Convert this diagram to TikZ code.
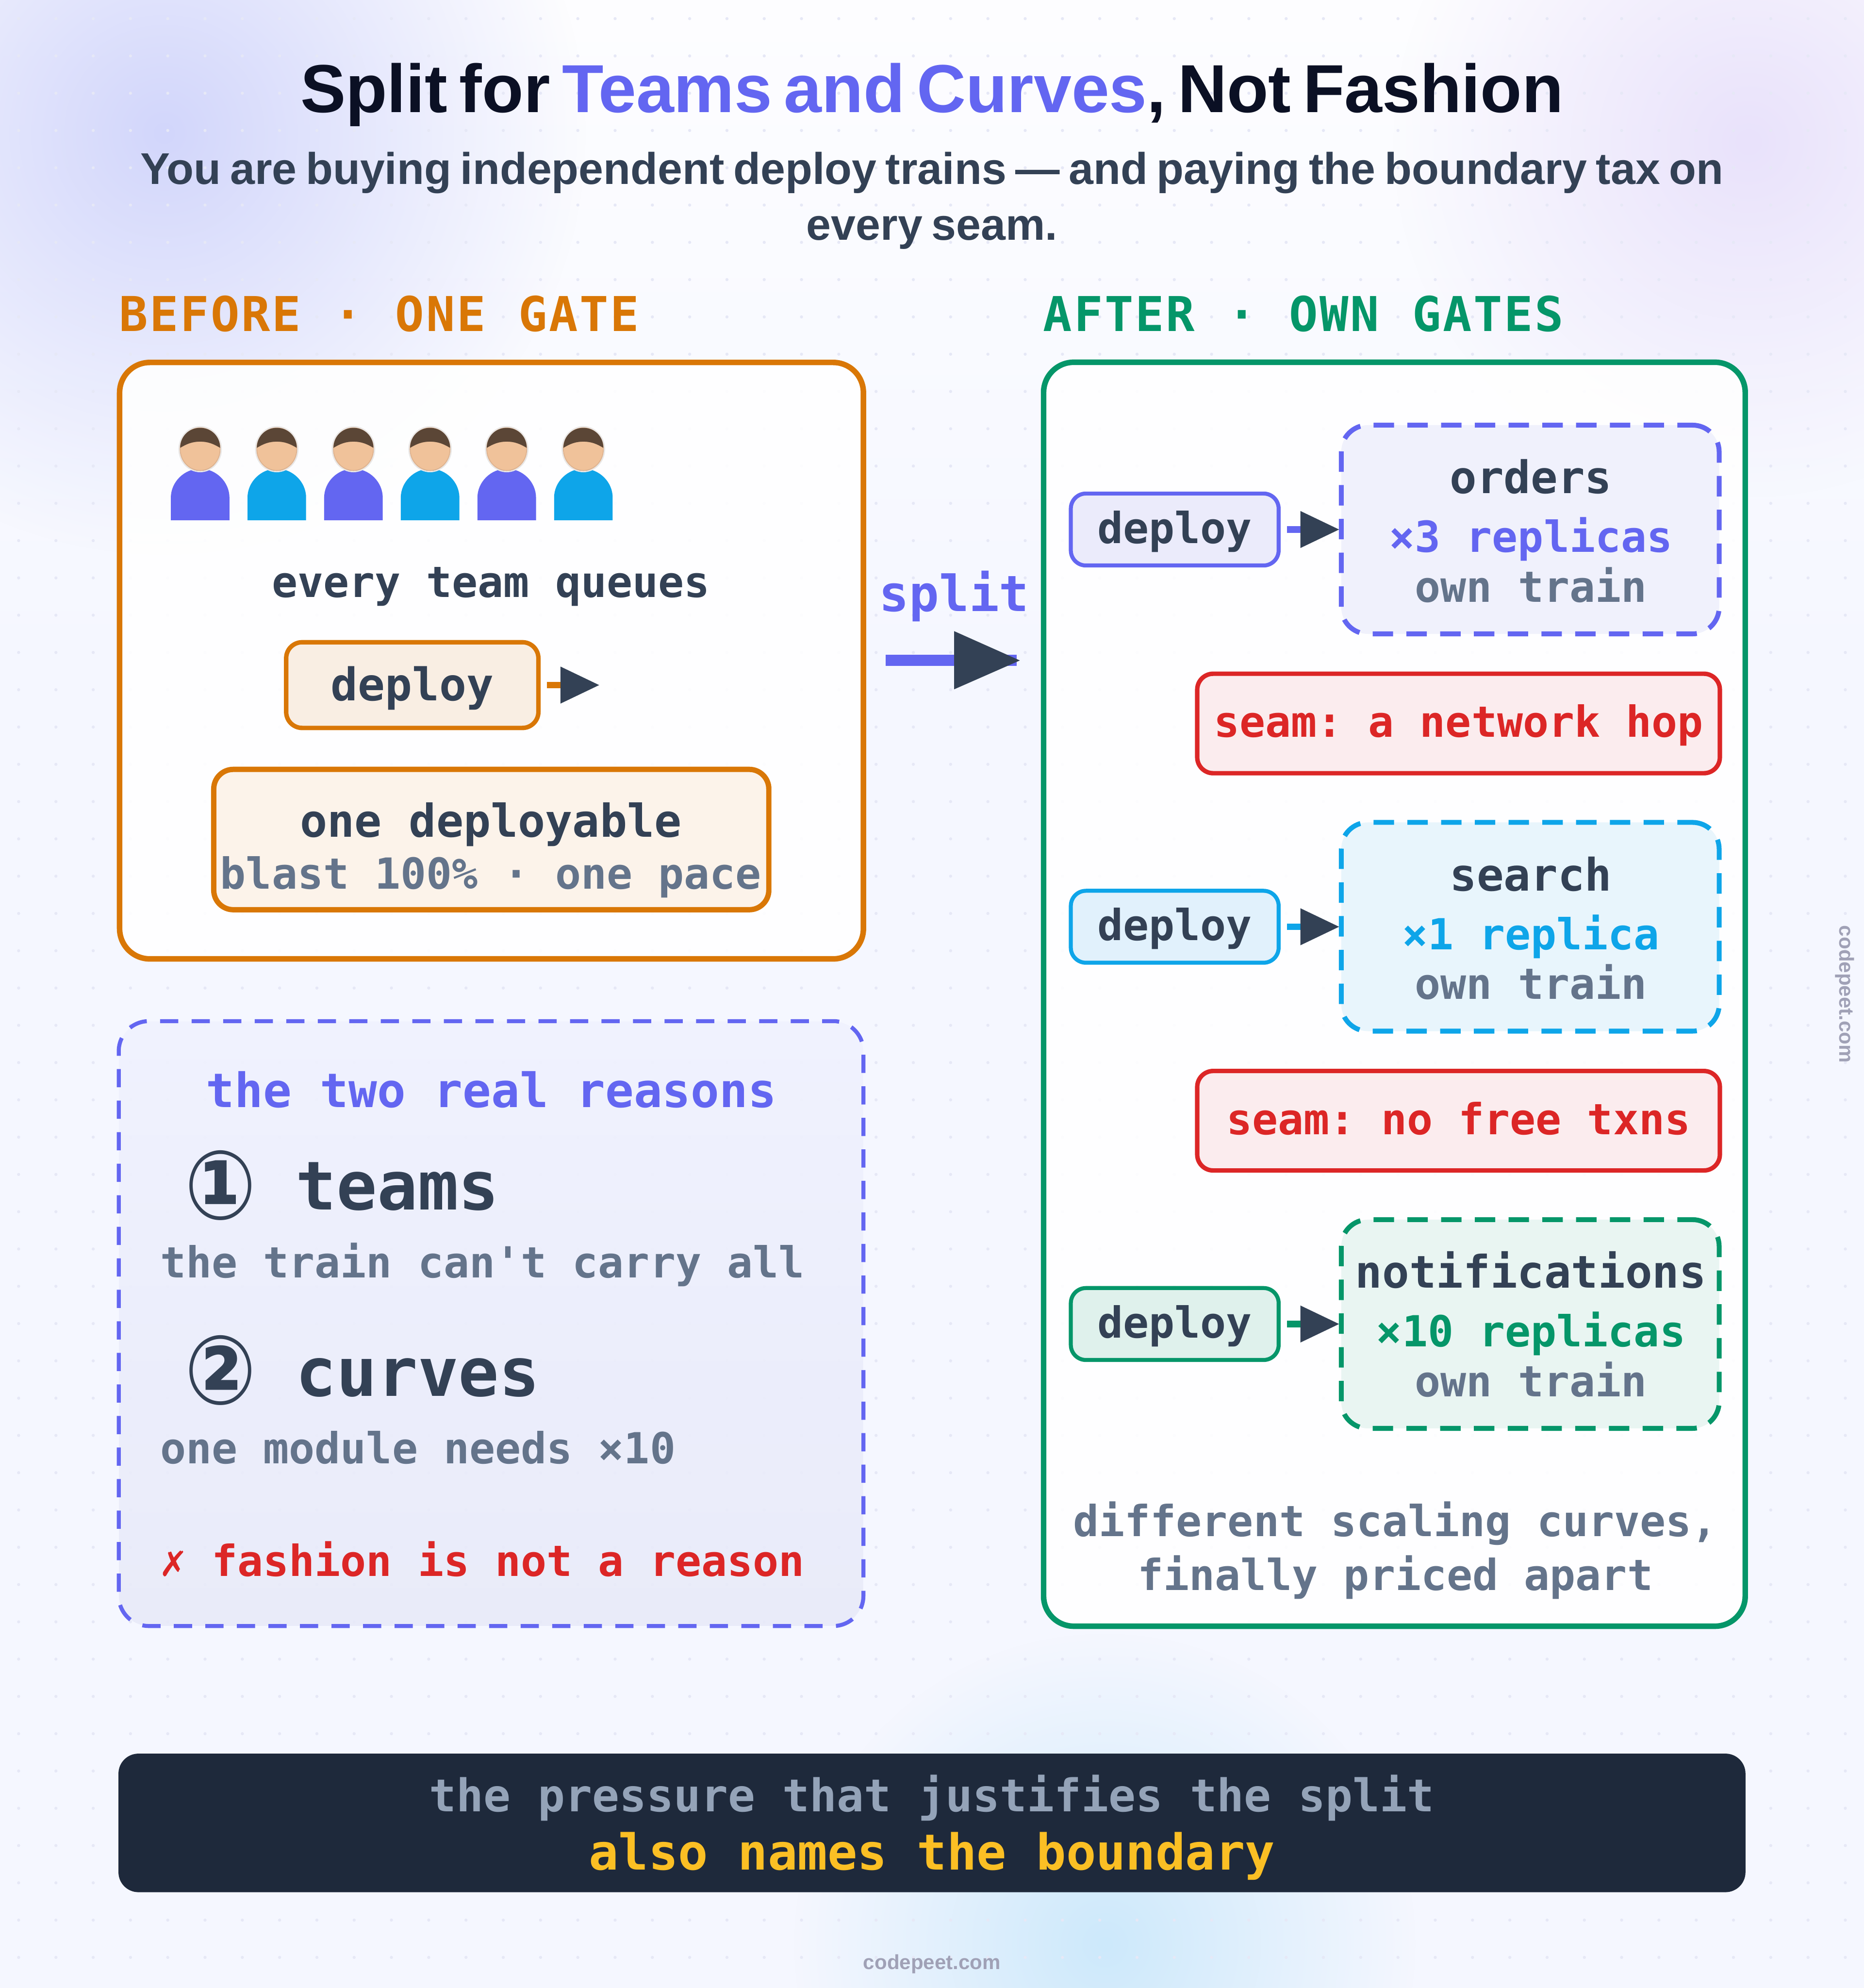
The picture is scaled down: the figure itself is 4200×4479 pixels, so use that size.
\documentclass[tikz,border=0pt]{standalone}
\usepackage{fontspec}
\usepackage{graphicx}
\usetikzlibrary{arrows.meta,fadings}
\setmainfont{Liberation Sans}
\newfontfamily\mono{DejaVu Sans Mono}
\newfontfamily\monols[LetterSpace=3.7,WordSpace=1.07]{DejaVu Sans Mono}
\newfontfamily\dsans{DejaVu Sans}
\newfontfamily\headf{Liberation Sans}
\AtBeginDocument{\frenchspacing}
\def\uu{0.28453pt}
\newcommand\fs[1]{\fontsize{\fpeval{#1*0.28453}pt}{\fpeval{#1*0.34}pt}\selectfont}
\definecolor{indigo}{HTML}{6366F1}
\definecolor{sky}{HTML}{0EA5E9}
\definecolor{emer}{HTML}{059669}
\definecolor{amber}{HTML}{D97706}
\definecolor{redc}{HTML}{DC2626}
\definecolor{slate}{HTML}{334155}
\definecolor{grayt}{HTML}{64748B}
\definecolor{navy}{HTML}{1E293B}
\definecolor{ink}{HTML}{0B1024}
\definecolor{wm}{HTML}{A0A1B6}
\definecolor{dotc}{HTML}{E6E8F6}
\definecolor{bgtop}{HTML}{FDFDFF}
\definecolor{bgc}{HTML}{F5F7FF}
\definecolor{blobA}{HTML}{D2D6FB}
\definecolor{blobB}{HTML}{E9E2FB}
\definecolor{blobC}{HTML}{CDE9FB}
\definecolor{skin}{HTML}{F0C29A}
\definecolor{skinE}{HTML}{DEB28E}
\definecolor{halo}{HTML}{E9E7E6}
\definecolor{hair}{HTML}{5B4636}
\definecolor{dfa}{HTML}{EBEBFB}
\definecolor{sfa}{HTML}{F0F1FC}
\definecolor{dfb}{HTML}{E1F1FC}
\definecolor{sfb}{HTML}{E8F5FC}
\definecolor{dfc}{HTML}{DFF1EC}
\definecolor{sfc}{HTML}{E9F5F2}
\definecolor{bdf}{HTML}{F9EEE3}
\definecolor{onef}{HTML}{FCF3EA}
\definecolor{seamf}{HTML}{FBECEE}
\definecolor{rtop}{HTML}{F0F2FE}
\definecolor{rbot}{HTML}{E8EAF9}
\definecolor{barsub}{HTML}{94A3B8}
\definecolor{barhi}{HTML}{FBBF24}
\tikzfading[name=blobf, inner color=transparent!0, outer color=transparent!100]
\tikzset{
  x=0.01cm, y=-0.01cm,
  panel/.style={rectangle, draw, line width=12.5*\uu, rounded corners=68*\uu, inner sep=0, outer sep=0, fill=white, fill opacity=0.9},
  pill/.style={rectangle, draw, line width=10*\uu, rounded corners=36*\uu, inner sep=0, outer sep=0},
  svc/.style={rectangle, draw, line width=11*\uu, rounded corners=60*\uu, inner sep=0, outer sep=0, dash pattern=on 46*\uu off 30*\uu, dash phase=11.8*\uu},
  lab/.style={inner sep=0, outer sep=0, anchor=base},
  labw/.style={inner sep=0, outer sep=0, anchor=base west},
  t96/.style={lab, font=\mono\bfseries\fs{96.4}, text=grayt},
  stub/.style={line width=15*\uu, shorten <=19*\uu, shorten >=4*\uu, -{Triangle[length=88*\uu, width=79*\uu, fill=slate, color=slate]}},
}
\newcommand\bx[6]{\node[#6, minimum width=#4*\uu, minimum height=#5*\uu] (#1) at (#2,#3) {};}
\begin{document}
\begin{tikzpicture}
\useasboundingbox (0,0) rectangle (4200,4479);
\begin{scope}
\clip (0,0) rectangle (4200,4479);
\fill[bgc] (0,0) rectangle (4200,4479);
\shade[top color=bgtop, bottom color=bgc] (0,0) rectangle (4200,1500);
\fill[blobA, path fading=blobf] (370,300) circle (950);
\fill[blobB, path fading=blobf] (3940,320) circle (800);
\fill[blobC, path fading=blobf] (2490,4380) circle (700);
\foreach \i in {0,...,49} \foreach \j in {0,...,53}
  \fill[dotc] ({42+84*\i},{42+84*\j}) circle (3.5);
\end{scope}

% titles
\node[lab, font=\headf\bfseries\fs{153}, text=ink] (title) at (2100,253) {\spaceskip=7.63pt Split for \textcolor{indigo}{Teams and Curves}, Not Fashion};
\node[lab, font=\headf\bfseries\fs{100}, text=slate] (sub1) at (2100,415) {\spaceskip=5.78pt You are buying independent deploy trains — and paying the boundary tax on};
\node[lab, font=\headf\bfseries\fs{100}, text=slate] (sub2) at (2100,541) {\spaceskip=5.78pt every seam.};
\node[labw, font=\monols\bfseries\fs{108}, text=amber] (lbefore) at (268,746) {BEFORE · ONE GATE};
\node[labw, font=\monols\bfseries\fs{108}, text=emer] (lafter) at (2351,746) {AFTER · OWN GATES};

% before panel
\bx{before}{1107.5}{1488.5}{1675}{1343}{panel, draw=amber}
\foreach \k in {0,...,5} {
  \pgfmathsetmacro\cx{451+172.7*\k}
  \pgfmathtruncatemacro\odd{mod(\k,2)}
  \ifnum\odd=0 \colorlet{shirt}{indigo}\else\colorlet{shirt}{sky}\fi
  \fill[shirt] (\cx-66,1172) -- (\cx-66,1121) .. controls (\cx-66,1086) and (\cx-36,1056) .. (\cx,1056) .. controls (\cx+36,1056) and (\cx+66,1086) .. (\cx+66,1121) -- (\cx+66,1172) -- cycle;
  \draw[halo, line width=3*\uu] (\cx,1012) ellipse [x radius=47.5, y radius=50.5];
  \filldraw[fill=skin, draw=skinE, line width=2*\uu] (\cx,1012) ellipse [x radius=45, y radius=48];
  \fill[hair] (\cx-45,1009) .. controls (\cx-45,984) and (\cx-26,964) .. (\cx,964) .. controls (\cx+26,964) and (\cx+45,984) .. (\cx+45,1009) .. controls (\cx+30,1000) and (\cx+18,995) .. (\cx,995) .. controls (\cx-18,995) and (\cx-30,1000) .. (\cx-45,1009) -- cycle;
}
\node[t96, text=slate] (queues) at (1106,1346) {every team queues};
\bx{bdeploy}{929}{1543.5}{568}{193}{pill, draw=amber, fill=bdf}
\node[lab, font=\mono\bfseries\fs{101.5}, text=slate] (bdt) at (929,1579) {deploy};
\coordinate (bend) at (1351,1543.5);
\draw[stub, draw=amber, shorten >=0pt] (bdeploy) -- (bend);
\bx{oned}{1107}{1891.5}{1250}{316}{pill, draw=amber, line width=12*\uu, rounded corners=44*\uu, fill=onef}
\node[lab, font=\mono\bfseries\fs{102}, text=slate] (onet) at (1106,1886) {one deployable};
\node[t96] (blast) at (1106,2003) {blast 100\% · one pace};

% split arrow
\node[lab, font=\mono\bfseries\fs{112}, text=indigo] (splitt) at (2150,1377) {split};
\coordinate (sa) at (1996,1488);
\coordinate (sb) at (2291,1488);
\draw[indigo, line width=25*\uu] (sa) -- (sb);
\fill[slate] (2150,1422) -- (2298,1488) -- (2150,1553) -- cycle;

% reasons
\shade[top color=rtop, bottom color=rbot, rounded corners=68*\uu, opacity=.9] (268,2301) rectangle (1945,3663);
\bx{reasons}{1106.5}{2982}{1677}{1362}{panel, draw=indigo, line width=9*\uu, dash pattern=on 41*\uu off 30*\uu, dash phase=16.2*\uu, fill=none}
\node[lab, font=\mono\bfseries\fs{106.7}, text=indigo] (rt) at (1107,2495) {the two real reasons};
\node[labw, font=\dsans\bfseries\fs{191}, text=slate] (n1) at (416.5,2746) {\scalebox{1}[1.13]{①}};
\node[labw, font=\mono\bfseries\fs{152}, text=slate] (r1) at (667,2726) {teams};
\node[t96, anchor=base west] (r1s) at (361,2879) {the train can't carry all};
\node[labw, font=\dsans\bfseries\fs{191}, text=slate] (n2) at (416.5,3163) {\scalebox{1}[1.13]{②}};
\node[labw, font=\mono\bfseries\fs{152}, text=slate] (r2) at (667,3145) {curves};
\node[t96, anchor=base west] (r2s) at (361,3297) {one module needs ×10};
\node[t96, anchor=base west, text=redc] (r3) at (361,3551) {✗ fashion is not a reason};

% after panel
\bx{after}{3142}{2240}{1580}{2846}{panel, draw=emer}
\foreach \nm/\dy/\colr/\ttl/\rp in {
   a/0/indigo/orders/×3 replicas,
   b/895/sky/search/×1 replica,
   c/1790/emer/notifications/×10 replicas} {
  \bx{d\nm}{2647}{1193+\dy}{468}{162}{pill, draw=\colr, line width=9*\uu, rounded corners=34*\uu, fill=df\nm}
  \bx{s\nm}{3448}{1193+\dy}{851}{470}{svc, draw=\colr, fill=sf\nm}
  \draw[stub, draw=\colr] (d\nm) -- (s\nm);
  \node[lab, font=\mono\bfseries\fs{96.4}, text=slate] (dt\nm) at (2647,1224+\dy) {deploy};
  \node[lab, font=\mono\bfseries\fs{101}, text=slate] (st\nm) at (3449.5,1112+\dy) {\ttl};
  \node[lab, font=\mono\bfseries\fs{96.4}, text=\colr] (sr\nm) at (3449.5,1244+\dy) {\rp};
  \node[t96] (so\nm) at (3449.5,1356+\dy) {own train};
}
\bx{seama}{3286.5}{1630}{1177}{224}{pill, draw=redc, fill=seamf}
\node[t96, text=redc] (seamat) at (3286.5,1661) {seam: a network hop};
\bx{seamb}{3286.5}{2525}{1177}{224}{pill, draw=redc, fill=seamf}
\node[t96, text=redc] (seambt) at (3286.5,2556) {seam: no free txns};
\node[t96] (diff1) at (3144,3461) {different scaling curves,};
\node[t96] (diff2) at (3144,3583) {finally priced apart};

% bottom bar
\bx{bar}{2100}{4107}{3664}{312}{rectangle, fill=navy, rounded corners=45*\uu, inner sep=0, outer sep=0}
\node[lab, font=\mono\bfseries\fs{101.6}, text=barsub] (bar1) at (2100,4082) {the pressure that justifies the split};
\node[lab, font=\mono\bfseries\fs{111.6}, text=barhi] (bar2) at (2100,4213) {also names the boundary};

% watermarks
\node[lab, font=\headf\bfseries\fs{46}, text=wm] (wmb) at (2100,4437) {codepeet.com};
\node[lab, font=\headf\bfseries\fs{46}, text=wm, rotate=-90] (wmr) at (4145,2240) {codepeet.com};
\end{tikzpicture}
\end{document}
